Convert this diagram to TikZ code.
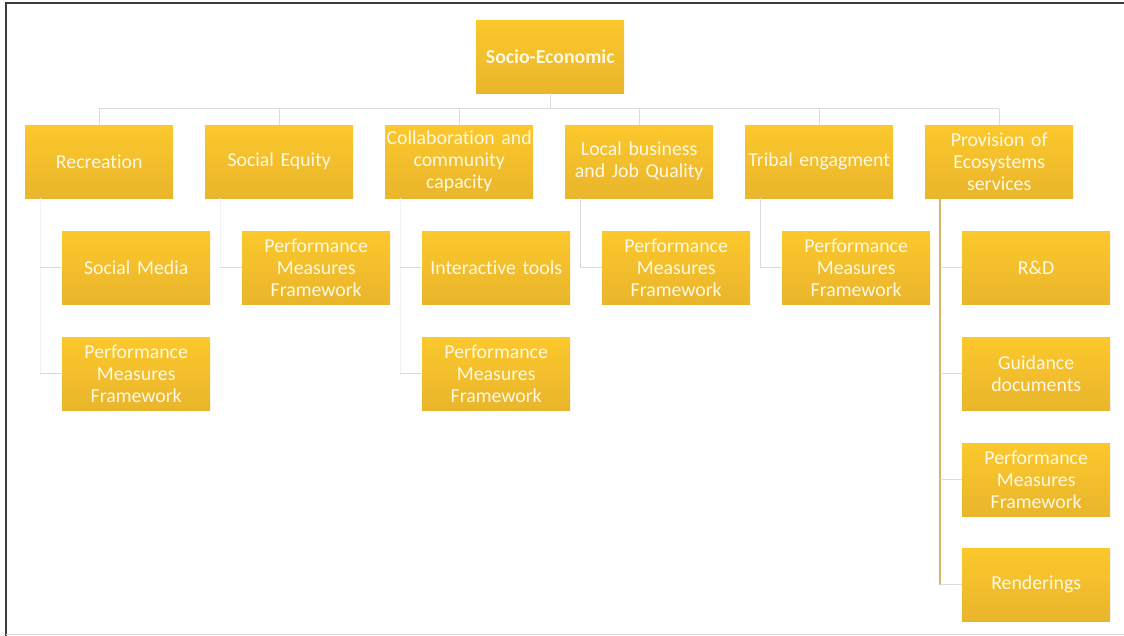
\documentclass[tikz,border=0pt]{standalone}
\usepackage{fontspec}
\setmainfont{Carlito}[Ligatures=NoCommon]
\definecolor{boxtop}{RGB}{252,200,44}
\definecolor{boxbot}{RGB}{233,181,44}
\definecolor{boxtext}{RGB}{255,249,228}
\definecolor{linkgray}{RGB}{218,218,218}
\definecolor{linkfaint}{RGB}{242,242,242}
\definecolor{linktan}{RGB}{214,180,108}
\definecolor{framedark}{RGB}{60,60,60}
\tikzset{
  card/.style={anchor=north west, minimum width=148pt, minimum height=73pt,
    inner sep=0pt, top color=boxtop, bottom color=boxbot, draw=none,
    text=boxtext, align=center, text width=148pt,
    font=\fontsize{19.8}{22}\selectfont},
  link/.style={draw=linkgray, line width=1pt},
  faintlink/.style={draw=linkfaint, line width=1pt},
  tanlink/.style={draw=linktan, line width=1.4pt},
}
\begin{document}
\begin{tikzpicture}[x=1pt, y=-1pt]
\useasboundingbox (0,0) rectangle (1124,636);
\fill[white] (0,0) rectangle (1124,636);
% frame
\draw[framedark, line width=2pt] (6,636) -- (6,3) -- (1124,3);
\draw[linkgray, line width=1pt] (6,634) -- (1124,634);

% root
\node[card, font=\fontsize{19.8}{22}\selectfont\bfseries] (top) at (476,20) {Socio-Economic};

% first level
\node[card] (rec)  at (25,125)  {Recreation};
\node[card] (seq)  at (205,125) {Social Equity};
\node[card] (col)  at (385,125) {Collaboration and\\community\\capacity};
\node[card] (loc)  at (565,125) {Local business\\and Job Quality};
\node[card] (tri)  at (745,125) {Tribal engagment};
\node[card] (prov) at (925,125) {Provision of\\Ecosystems\\services};

% second level
\node[card] (rec1) at (62,231)  {Social Media};
\node[card] (rec2) at (62,337)  {Performance\\Measures\\Framework};
\node[card] (seq1) at (242,231) {Performance\\Measures\\Framework};
\node[card] (col1) at (422,231) {Interactive tools};
\node[card] (col2) at (422,337) {Performance\\Measures\\Framework};
\node[card] (loc1) at (602,231) {Performance\\Measures\\Framework};
\node[card] (tri1) at (782,231) {Performance\\Measures\\Framework};
\node[card] (prov1) at (962,231) {R\&D};
\node[card] (prov2) at (962,337) {Guidance\\documents};
\node[card] (prov3) at (962,443) {Performance\\Measures\\Framework};
\node[card] (prov4) at (962,548) {Renderings};

% bus from the root to the first level
\coordinate (busL) at (rec.north |- 0,109);
\coordinate (busR) at (prov.north |- 0,109);
\draw[link] (busL) -- (busR);
\draw[link] (top.south) -- (top.south |- busL);
\foreach \n in {rec,seq,col,loc,tri,prov}
  \draw[link] (\n.north) -- (\n.north |- busL);

% trunks under first-level cards
\foreach \n in {rec,seq,col,loc,tri,prov}
  \path (\n.south west) ++(15,0) coordinate (\n-v);

\draw[faintlink] (rec-v) -- (rec-v |- rec2.west);
\draw[link] (rec-v |- rec1.west) -- (rec1.west);
\draw[link] (rec-v |- rec2.west) -- (rec2.west);

\draw[faintlink] (seq-v) -- (seq-v |- seq1.west);
\draw[link] (seq-v |- seq1.west) -- (seq1.west);

\draw[faintlink] (col-v) -- (col-v |- col2.west);
\draw[link] (col-v |- col1.west) -- (col1.west);
\draw[link] (col-v |- col2.west) -- (col2.west);

\draw[link] (loc-v) |- (loc1.west);
\draw[link] (tri-v) |- (tri1.west);

\draw[tanlink] (prov-v) -- (prov-v |- prov4.west);
\foreach \c in {prov1,prov2,prov3,prov4}
  \draw[link] (prov-v |- \c.west) -- (\c.west);
\end{tikzpicture}
\end{document}
